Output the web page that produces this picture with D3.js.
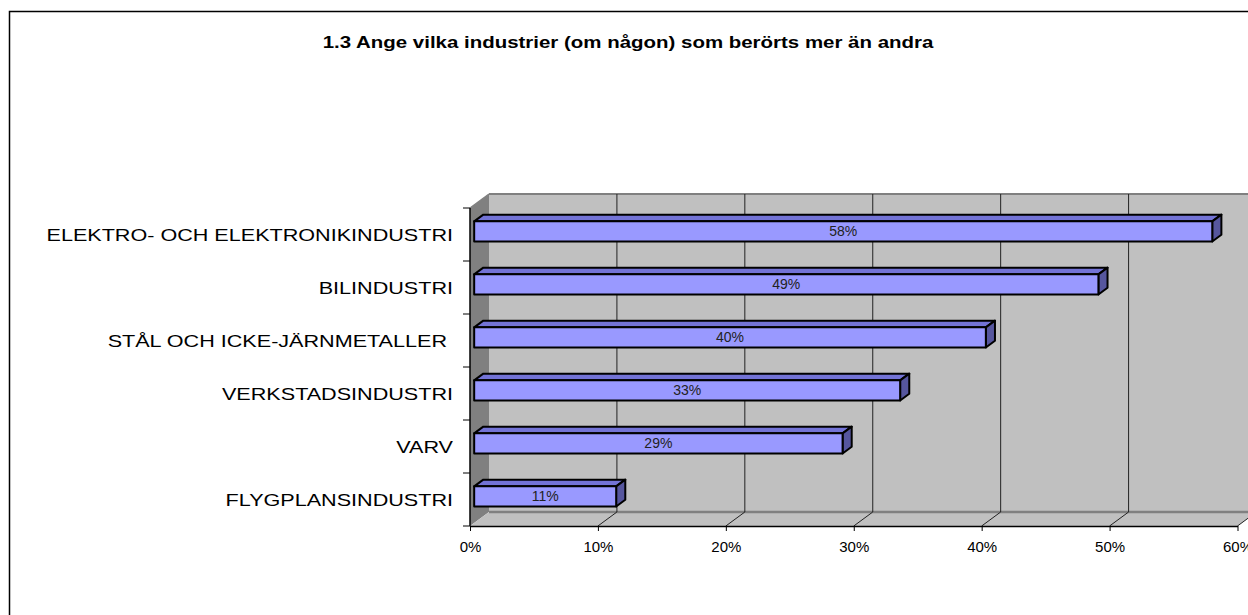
<!DOCTYPE html>
<html>
<head>
<meta charset="utf-8">
<script src="https://cdn.jsdelivr.net/npm/d3@7"></script>
<style>
    body { margin: 0; background: #fff; }
    svg { display: block; font-family: Arial, "Liberation Sans", sans-serif; }
</style>
</head>
<body>
<svg id="svg" width="1248" height="615"></svg>
<script>
// chart values
let categories = [
    "ELEKTRO- OCH ELEKTRONIKINDUSTRI",
    "BILINDUSTRI",
    "STÅL OCH ICKE-JÄRNMETALLER ",
    "VERKSTADSINDUSTRI",
    "VARV",
    "FLYGPLANSINDUSTRI"
];
let values = [0.577, 0.488, 0.400, 0.333, 0.288, 0.111];
let valueLabels = ["58%", "49%", "40%", "33%", "29%", "11%"];
let xTicks = [0, 0.1, 0.2, 0.3, 0.4, 0.5, 0.6];
let title = "1.3 Ange vilka industrier (om någon) som berörts mer än andra";

let svg = d3.select("#svg");

// plot area (front plane) and depth offset
const plotLeft = 470, plotRight = 1237.5, plotTop = 208, plotBottom = 526;
const depthX = 19, depthY = -14;
const d0 = 0.22, d1 = 0.7;

let xScale = d3.scaleLinear().domain([0, 0.6]).range([plotLeft, plotRight]);
let yScale = d3.scaleBand().domain(categories).range([plotTop, plotBottom]).padding(0);

function p(x, y, d) {
    return [x + depthX * d, y + depthY * d];
}
function poly(pts) {
    return pts.map(q => q.join(",")).join(" ");
}

// outer border
svg.append("rect")
    .attr("x", 9.5).attr("y", 11.5)
    .attr("width", 1400).attr("height", 800)
    .attr("fill", "none").attr("stroke", "#000").attr("stroke-width", 1.5);

svg.append("text")
    .attr("transform", "translate(628,48) scale(1.24,1)")
    .attr("text-anchor", "middle")
    .style("font-size", "16.5px").style("font-weight", "bold")
    .text(title);

// walls
svg.append("polygon")
    .attr("points", poly([[plotLeft, plotTop], p(plotLeft, plotTop, 1), p(plotLeft, plotBottom, 1), [plotLeft, plotBottom]]))
    .attr("fill", "#808080");

let backTL = p(plotLeft, plotTop, 1);
svg.append("rect")
    .attr("x", backTL[0]).attr("y", backTL[1])
    .attr("width", 1300 - backTL[0]).attr("height", plotBottom - plotTop)
    .attr("fill", "#c0c0c0");

svg.append("polygon")
    .attr("points", poly([[plotLeft, plotBottom], p(plotLeft, plotBottom, 1), p(plotRight, plotBottom, 1), [plotRight, plotBottom]]))
    .attr("fill", "#c0c0c0");

svg.append("line")
    .attr("x1", backTL[0]).attr("x2", 1300)
    .attr("y1", backTL[1]).attr("y2", backTL[1])
    .attr("stroke", "#808080").attr("stroke-width", 2);
svg.append("line")
    .attr("x1", backTL[0]).attr("x2", 1300)
    .attr("y1", plotBottom + depthY).attr("y2", plotBottom + depthY)
    .attr("stroke", "#808080").attr("stroke-width", 2.5);
svg.append("line")
    .attr("x1", plotLeft).attr("x2", backTL[0])
    .attr("y1", plotTop).attr("y2", backTL[1])
    .attr("stroke", "#808080").attr("stroke-width", 1.5);

// grid lines on back wall and floor
let grid = svg.append("g").attr("stroke", "#222").attr("stroke-width", 1);
xTicks.slice(1).forEach(t => {
    let b0 = p(xScale(t), plotTop, 1), b1 = p(xScale(t), plotBottom, 1);
    grid.append("line").attr("x1", b0[0]).attr("y1", b0[1]).attr("x2", b1[0]).attr("y2", b1[1]);
    grid.append("line").attr("x1", b1[0]).attr("y1", b1[1]).attr("x2", xScale(t)).attr("y2", plotBottom);
});

// x axis on front edge of floor
let xAxis = svg.append("g")
    .attr("transform", `translate(0,${plotBottom})`)
    .call(d3.axisBottom(xScale).tickValues(xTicks).tickFormat(d3.format(".0%")).tickSize(5).tickSizeOuter(0));
xAxis.select(".domain").attr("stroke", "#000").attr("stroke-width", 1.5);
xAxis.selectAll("text")
    .style("font-size", "15px")
    .style("font-family", "Arial, 'Liberation Sans', sans-serif")
    .attr("fill", "#000")
    .attr("y", 15);

// y axis on front edge of left wall
let yAxis = svg.append("g").attr("stroke", "#000");
yAxis.append("line").attr("x1", plotLeft).attr("x2", plotLeft).attr("y1", plotTop).attr("y2", plotBottom).attr("stroke-width", 1.5);
categories.concat([null]).forEach(c => {
    let yy = c ? yScale(c) : plotBottom;
    yAxis.append("line").attr("x1", plotLeft - 7).attr("x2", plotLeft).attr("y1", yy).attr("y2", yy);
});

svg.append("g").selectAll("text")
    .data(categories)
    .join("text")
    .attr("transform", d => `translate(453,${yScale(d) + yScale.bandwidth() / 2}) scale(1.27,1)`)
    .attr("dy", "0.36em")
    .attr("text-anchor", "end")
    .attr("xml:space", "preserve")
    .style("white-space", "pre")
    .style("font-size", "17px")
    .text(d => d);

// bars
const barH = yScale.bandwidth() * 0.38;
let bars = svg.append("g").attr("stroke", "#000").attr("stroke-width", 2).attr("stroke-linejoin", "round");
categories.forEach((c, i) => {
    let yc = yScale(c) + yScale.bandwidth() / 2;
    let yt = yc - barH / 2, yb = yc + barH / 2;
    let x0 = xScale(0), x1 = xScale(values[i]);
    bars.append("polygon")
        .attr("points", poly([p(x0, yt, d0), p(x1, yt, d0), p(x1, yt, d1), p(x0, yt, d1)]))
        .attr("fill", "#7373d6");
    bars.append("polygon")
        .attr("points", poly([p(x1, yt, d0), p(x1, yt, d1), p(x1, yb, d1), p(x1, yb, d0)]))
        .attr("fill", "#56569e");
    bars.append("polygon")
        .attr("points", poly([p(x0, yt, d0), p(x1, yt, d0), p(x1, yb, d0), p(x0, yb, d0)]))
        .attr("fill", "#9999ff");
    let lc = p((x0 + x1) / 2, yc, d0);
    svg.append("text")
        .attr("x", lc[0]).attr("y", lc[1])
        .attr("dy", "0.36em")
        .attr("text-anchor", "middle")
        .style("font-size", "14px")
        .attr("fill", "#222")
        .text(valueLabels[i]);
});
</script>
</body>
</html>
